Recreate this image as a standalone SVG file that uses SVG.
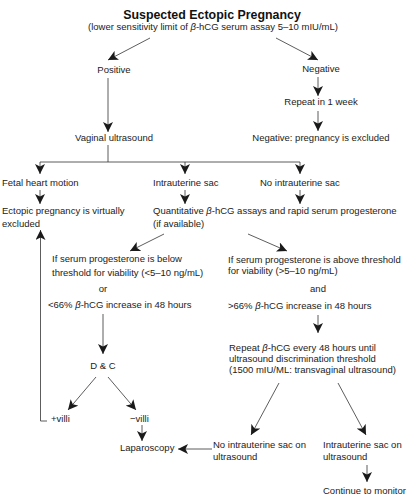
<svg xmlns="http://www.w3.org/2000/svg" width="414" height="500" viewBox="0 0 414 500">
<defs>
<marker id="ah" viewBox="0 0 10 10" refX="10" refY="5" markerWidth="10" markerHeight="10" markerUnits="userSpaceOnUse" orient="auto">
<path d="M0,0 L10,5 L0,10 L2.5,5 z" fill="#1a1a1a"/>
</marker>
<style>
text{font-family:"Liberation Sans",Arial,sans-serif;font-size:9.5px;fill:#222}
.t{font-size:12.4px;font-weight:bold;fill:#111}
.m{text-anchor:middle}
.b{font-style:italic}
.c line,.c path{stroke:#333;stroke-width:0.8;fill:none}
.a{marker-end:url(#ah)}
</style>
</defs>
<g id="title">
<text class="t m" x="212" y="19">Suspected Ectopic Pregnancy</text>
<text class="m" x="213" y="30">(lower sensitivity limit of <tspan class="b">β</tspan>-hCG serum assay 5–10 mIU/mL)</text>
</g>
<g id="positive"><text class="m" x="114" y="73">Positive</text></g>
<g id="negative"><text class="m" x="321" y="72">Negative</text></g>
<g id="repeat1"><text class="m" x="321" y="105">Repeat in 1 week</text></g>
<g id="vaginal"><text class="m" x="114" y="141">Vaginal ultrasound</text></g>
<g id="excluded"><text class="m" x="321" y="141">Negative: pregnancy is excluded</text></g>
<g id="fetal"><text x="2" y="186">Fetal heart motion</text></g>
<g id="iusac"><text x="153" y="186">Intrauterine sac</text></g>
<g id="noiusac"><text x="260" y="186">No intrauterine sac</text></g>
<g id="ectopicex"><text x="2" y="214">Ectopic pregnancy is virtually</text><text x="2" y="227">excluded</text></g>
<g id="quant"><text x="153" y="214">Quantitative <tspan class="b">β</tspan>-hCG assays and rapid serum progesterone</text><text x="153" y="227">(if available)</text></g>
<g id="below">
<text x="52" y="262">If serum progesterone is below</text>
<text x="52" y="276">threshold for viability (&lt;5–10 ng/mL)</text>
<text class="m" x="103" y="292">or</text>
<text x="48" y="308">&lt;66% <tspan class="b">β</tspan>-hCG increase in 48 hours</text>
</g>
<g id="above">
<text x="228" y="263">If serum progesterone is above threshold</text>
<text x="228" y="274">for viability (&gt;5–10 ng/mL)</text>
<text class="m" x="318" y="292">and</text>
<text x="228" y="309">&gt;66% <tspan class="b">β</tspan>-hCG increase in 48 hours</text>
</g>
<g id="dc"><text class="m" x="103" y="369">D &amp; C</text></g>
<g id="repeat48">
<text x="229" y="351">Repeat <tspan class="b">β</tspan>-hCG every 48 hours until</text>
<text x="229" y="362">ultrasound discrimination threshold</text>
<text x="229" y="373">(1500 mIU/ML: transvaginal ultrasound)</text>
</g>
<g id="pvilli"><text x="51" y="422">+villi</text></g>
<g id="mvilli"><text x="130" y="422">−villi</text></g>
<g id="lap"><text x="120" y="451">Laparoscopy</text></g>
<g id="nosacus"><text x="213" y="448">No intrauterine sac on</text><text x="213" y="460">ultrasound</text></g>
<g id="sacus"><text x="323" y="448">Intrauterine sac on</text><text x="323" y="460">ultrasound</text></g>
<g id="monitor"><text x="323" y="494">Continue to monitor</text></g>
<g id="connectors" class="c">
<line class="a" x1="150" y1="38" x2="108" y2="60"/>
<line class="a" x1="276" y1="38" x2="318" y2="60"/>
<line class="a" x1="108" y1="78" x2="108" y2="132"/>
<line class="a" x1="318" y1="77" x2="318" y2="96"/>
<line class="a" x1="318" y1="111" x2="318" y2="131"/>
<path d="M108,145 V162 M40,162 H300"/>
<line class="a" x1="40" y1="162" x2="40" y2="174"/>
<line class="a" x1="185" y1="162" x2="185" y2="174"/>
<line class="a" x1="300" y1="162" x2="300" y2="174"/>
<line class="a" x1="40" y1="190" x2="40" y2="204"/>
<line class="a" x1="185" y1="190" x2="185" y2="204"/>
<line class="a" x1="300" y1="190" x2="300" y2="204"/>
<path d="M47,421 H40.5"/>
<line class="a" x1="40.5" y1="421" x2="40.5" y2="230"/>
<line class="a" x1="164" y1="234" x2="130" y2="251"/>
<line class="a" x1="248" y1="234" x2="287" y2="251"/>
<line class="a" x1="103" y1="314" x2="103" y2="354"/>
<line class="a" x1="318" y1="315" x2="318" y2="333"/>
<line class="a" x1="96" y1="377" x2="68" y2="410"/>
<line class="a" x1="108" y1="377" x2="136" y2="410"/>
<line class="a" x1="142" y1="425" x2="142" y2="441"/>
<line class="a" x1="212" y1="449" x2="178" y2="449"/>
<line class="a" x1="279" y1="383" x2="251" y2="435"/>
<line class="a" x1="338" y1="383" x2="366" y2="435"/>
<line class="a" x1="367" y1="465" x2="367" y2="482"/>
</g>
</svg>
